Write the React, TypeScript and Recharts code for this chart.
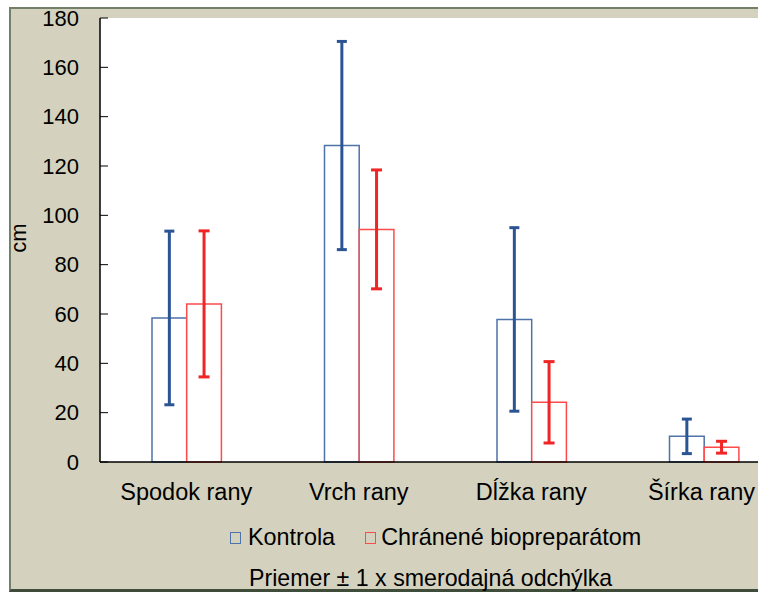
import React from "react";
import { BarChart, Bar, XAxis, YAxis, ErrorBar, CartesianGrid } from "recharts";

const categories = ["Spodok rany", "Vrch rany", "Dĺžka rany", "Šírka rany"];
const kontrolaMean = [58.4, 128.3, 57.8, 10.4];
const kontrolaSd = [35.2, 42.2, 37.2, 7.0];
const chraneneMean = [64.1, 94.3, 24.2, 6.0];
const chraneneSd = [29.6, 24.1, 16.5, 2.4];
const yTicks = [0, 20, 40, 60, 80, 100, 120, 140, 160, 180];

const seriesNames = ["Kontrola", "Chránené biopreparátom"];
const footerText = "Priemer ± 1 x smerodajná odchýlka";
const yLabel = "cm";

const data = categories.map((c, i) => ({
  name: c,
  kontrola: kontrolaMean[i],
  kontrolaErr: kontrolaSd[i],
  chranene: chraneneMean[i],
  chraneneErr: chraneneSd[i],
}));

const FONT = "'Liberation Sans', Arial, sans-serif";
const BLUE_BAR = "#4e73a8";
const RED_BAR = "#ff4a4a";
const BLUE_ERR = "#2b5495";
const RED_ERR = "#f02525";
const VIEW_W = 758;

const YTick = (props: any) => {
  const { x, y, payload } = props;
  return (
    <g>
      <line x1={x} y1={y} x2={x + 8} y2={y} stroke="#000" strokeWidth={1} />
      <text
        x={x - 21}
        y={y}
        dy="0.355em"
        textAnchor="end"
        fontSize={22}
        fontFamily={FONT}
        fill="#000"
      >
        {payload.value}
      </text>
    </g>
  );
};

const XTick = (props: any) => {
  const { x, y, payload, index } = props;
  const last = index === categories.length - 1;
  return (
    <text
      x={last ? VIEW_W - 3 : x}
      y={y}
      dy="0.71em"
      textAnchor={last ? "end" : "middle"}
      fontSize={23.5}
      fontFamily={FONT}
      fill="#000"
    >
      {payload.value}
    </text>
  );
};

export default function App() {
  return (
    <div
      style={{
        position: "absolute",
        left: 0,
        top: 0,
        width: VIEW_W,
        height: 592,
        overflow: "hidden",
        background: "#fff",
        fontFamily: FONT,
      }}
    >
      <div
        style={{
          position: "absolute",
          left: 9,
          top: 7,
          width: 770,
          height: 585,
          boxSizing: "border-box",
          background: "#d4d2bf",
          borderLeft: "2px solid #72806a",
          borderTop: "2px solid #72806a",
          borderBottom: "3px solid #3f4c3a",
        }}
      />
      <div style={{ position: "absolute", left: 0, top: 0 }}>
        <BarChart
          width={800}
          height={592}
          data={data}
          margin={{ top: 18, right: 10, bottom: 90, left: 0 }}
          barGap={0}
          barSize={34.7}
        >
          <CartesianGrid horizontal={false} vertical={false} fill="#fff" />
          <XAxis
            dataKey="name"
            height={40}
            interval={0}
            tickLine={false}
            tickSize={0}
            tickMargin={21}
            axisLine={{ stroke: "#000", strokeWidth: 1.5 }}
            tick={<XTick />}
          />
          <YAxis
            width={100}
            domain={[0, 180]}
            ticks={yTicks}
            interval={0}
            tickLine={false}
            tickSize={0}
            tickMargin={0}
            axisLine={{ stroke: "#000", strokeWidth: 1.5 }}
            tick={<YTick />}
            label={{
              value: yLabel,
              angle: -90,
              position: "insideLeft",
              dx: 13,
              dy: -2,
              style: { fontSize: 22, fill: "#000", fontFamily: FONT, textAnchor: "middle" },
            }}
          />
          <Bar
            dataKey="kontrola"
            fill="#fff"
            stroke={BLUE_BAR}
            strokeWidth={1.5}
            isAnimationActive={false}
          >
            <ErrorBar
              dataKey="kontrolaErr"
              width={5}
              strokeWidth={3}
              stroke={BLUE_ERR}
              direction="y"
            />
          </Bar>
          <Bar
            dataKey="chranene"
            fill="#fff"
            stroke={RED_BAR}
            strokeWidth={1.5}
            isAnimationActive={false}
          >
            <ErrorBar
              dataKey="chraneneErr"
              width={5.5}
              strokeWidth={3}
              stroke={RED_ERR}
              direction="y"
            />
          </Bar>
        </BarChart>
      </div>
      <div
        style={{
          position: "absolute",
          left: 230,
          top: 526,
          display: "flex",
          alignItems: "center",
          fontSize: 23.4,
          lineHeight: "23px",
          color: "#000",
          whiteSpace: "nowrap",
        }}
      >
        <span
          style={{
            display: "inline-block",
            width: 9,
            height: 10,
            border: `1.5px solid ${BLUE_BAR}`,
            marginRight: 7,
          }}
        />
        <span>{seriesNames[0]}</span>
        <span
          style={{
            display: "inline-block",
            width: 9,
            height: 10,
            border: `1.5px solid ${RED_BAR}`,
            marginLeft: 30,
            marginRight: 5,
          }}
        />
        <span>{seriesNames[1]}</span>
      </div>
      <div
        style={{
          position: "absolute",
          left: 249,
          top: 567,
          fontSize: 23.2,
          lineHeight: "23px",
          color: "#000",
          whiteSpace: "nowrap",
        }}
      >
        {footerText}
      </div>
    </div>
  );
}
